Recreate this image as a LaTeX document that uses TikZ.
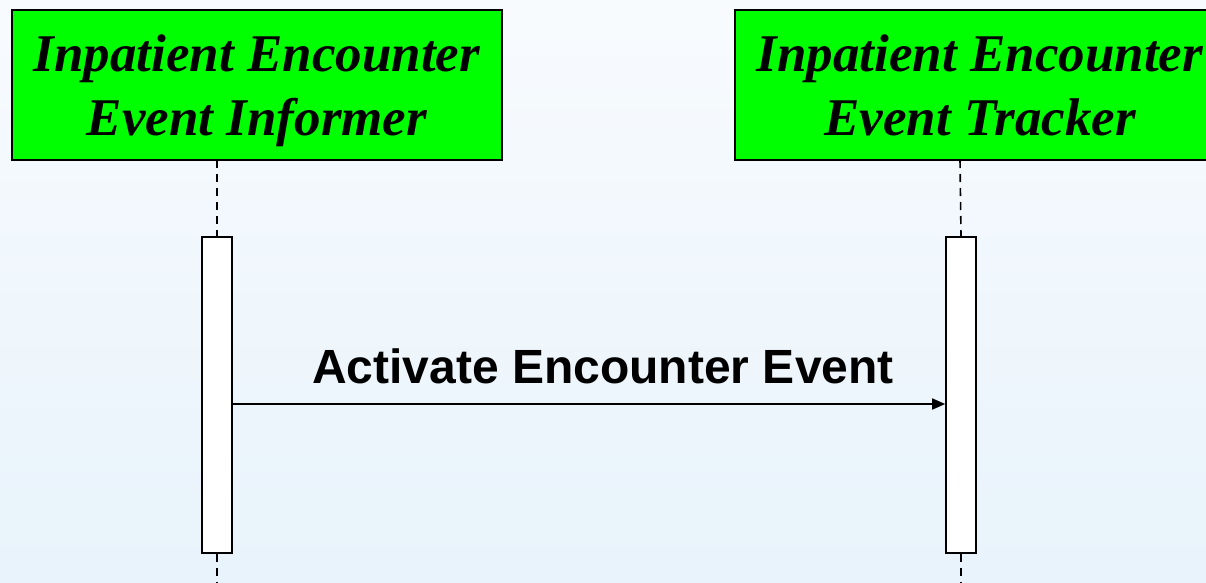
\documentclass[tikz,border=0pt]{standalone}
\usepackage{fontspec}
\setmainfont{Liberation Serif}
\setsansfont{Liberation Sans}
\usetikzlibrary{arrows.meta}
\definecolor{bgtop}{HTML}{F8FBFE}
\definecolor{bgbot}{HTML}{E8F3FB}
\definecolor{objgreen}{HTML}{00FF00}
\newcommand\boxstrut{\rule[-14pt]{0pt}{64pt}}
\tikzset{
  objbox/.style={draw=black, line width=1.6pt, fill=objgreen, minimum width=490pt, minimum height=150pt,
    inner sep=0pt, align=center, font=\fontsize{53}{64}\selectfont\bfseries\itshape},
  actbar/.style={draw=black, line width=1.6pt, fill=white, minimum width=30pt, minimum height=316pt, inner sep=0pt},
  lifeline/.style={draw=black, line width=1.6pt, dash pattern=on 8pt off 6pt},
  msg/.style={draw=black, line width=1.6pt, -{Triangle[length=13pt,width=11pt]}},
  msglabel/.style={font=\fontsize{48}{56}\selectfont\sffamily\bfseries, inner sep=0pt}
}
\begin{document}
\begin{tikzpicture}[x=1pt,y=-1pt]
\useasboundingbox (0,0) rectangle (1206,582);
\clip (0,0) rectangle (1206,582);
\shade[top color=bgtop, bottom color=bgbot] (0,0) rectangle (1206,582);
\node[objbox] (inf) at (257,85) {\boxstrut Inpatient Encounter\\\boxstrut Event Informer};
\node[objbox] (trk) at (980,85) {\boxstrut Inpatient Encounter\\\boxstrut Event Tracker};
\coordinate (infbot) at (217,160);
\coordinate (trkbot) at (960,160);
\node[actbar] (ainf) at (217,395) {};
\node[actbar] (atrk) at (961,395) {};
\coordinate (infend) at (217,582);
\coordinate (trkend) at (961,582);
\draw[lifeline] (infbot) -- (ainf.north);
\draw[lifeline] (trkbot) -- (atrk.north);
\draw[lifeline] (ainf.south) -- (infend);
\draw[lifeline] (atrk.south) -- (trkend);
\draw[msg] (ainf.east |- 0,404) -- (atrk.west |- 0,404);
\node[msglabel, anchor=base] (lbl) at (603,383) {Activate Encounter Event};
\end{tikzpicture}
\end{document}
